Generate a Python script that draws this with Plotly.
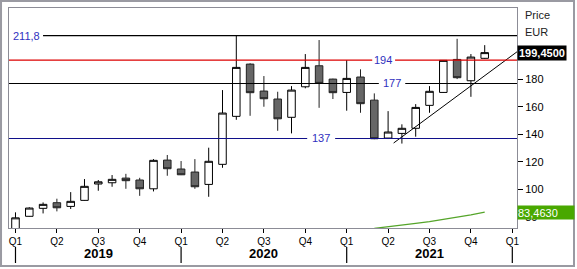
import plotly.graph_objects as go

# ---- data ----
months = list(range(35))  # Jan 2019 .. Nov 2021, monthly candles
opens  = [71.0, 80.4, 86.2, 90.3, 87.6, 92.0, 103.9, 104.8, 108.2, 106.8, 100.4, 121.3,
          114.8, 112.6, 103.6, 118.2, 153.1, 191.1, 171.5, 165.7, 152.4, 174.6, 189.9, 180.2,
          170.5, 181.7, 164.9, 137.3, 140.7, 144.4, 161.1, 170.5, 194.5, 179.0, 195.3]
highs  = [83.3, 87.0, 90.5, 93.2, 98.0, 107.5, 106.8, 110.4, 111.3, 108.4, 122.0, 125.0,
          120.6, 122.0, 130.3, 172.2, 211.8, 191.7, 182.4, 171.0, 175.1, 198.4, 208.6, 180.5,
          194.0, 187.3, 169.8, 156.9, 147.3, 162.0, 175.1, 194.0, 209.5, 198.4, 204.9]
lows   = [69.0, 80.2, 82.5, 84.0, 85.7, 91.8, 99.0, 101.9, 100.4, 95.3, 98.5, 109.9,
          110.4, 100.4, 94.6, 115.7, 150.6, 153.5, 160.1, 142.6, 140.7, 173.5, 159.3, 165.7,
          157.2, 155.7, 136.5, 136.6, 133.3, 138.3, 155.7, 170.3, 180.2, 167.3, 195.0]
closes = [79.3, 86.4, 89.1, 86.6, 91.3, 102.2, 105.5, 107.3, 106.3, 100.4, 121.1, 115.0,
          110.6, 101.9, 120.4, 155.5, 188.7, 170.3, 165.9, 151.3, 172.2, 188.7, 177.1, 170.3,
          180.7, 162.3, 136.8, 141.7, 144.4, 159.6, 171.3, 193.8, 181.2, 196.2, 199.45]

green_x = [26, 27, 28, 29, 30, 31, 32, 33, 34]
green_y = [71.6, 72.7, 73.9, 75.2, 76.6, 78.1, 79.7, 81.5, 83.463]

trend_x = [27.4, 36.4]
trend_y = [133.7, 200.5]

levels = {"211,8": 211.8, "194": 194, "177": 177, "137": 137}
last_price = 199.45
green_last = 83.463

quarter_ticks = list(range(0, 37, 3))
quarter_text = ["Q1", "Q2", "Q3", "Q4"] * 3 + ["Q1"]
year_pos = [6, 18, 30]
year_text = ["2019", "2020", "2021"]
year_sep = [0, 12, 24, 36]
y_ticks = [80, 100, 120, 140, 160, 180, 200]
y_tick_text = ["80", "100", "120", "140", "160", "180", ""]  # 200 hidden under price box

FONT = "Liberation Sans, Arial, sans-serif"
LBL = "#3030c0"

fig = go.Figure()
fig.add_trace(go.Candlestick(
    x=months, open=opens, high=highs, low=lows, close=closes,
    increasing=dict(line=dict(color="black", width=1), fillcolor="white"),
    decreasing=dict(line=dict(color="#222222", width=1), fillcolor="#666666"),
    whiskerwidth=0, showlegend=False, hoverinfo="skip"))
fig.add_trace(go.Scatter(x=green_x, y=green_y, mode="lines",
                         line=dict(color="#55a52a", width=1.2), showlegend=False, hoverinfo="skip"))
fig.add_trace(go.Scatter(x=trend_x, y=trend_y, mode="lines",
                         line=dict(color="black", width=1), showlegend=False, hoverinfo="skip"))

shapes = []
def hline(y, x0, x1, color):
    shapes.append(dict(type="line", xref="paper", yref="y", x0=x0, x1=x1, y0=y, y1=y,
                       line=dict(color=color, width=1.2), layer="above"))

hline(levels["211,8"], 0.067, 1, "black")
hline(levels["194"], 0, 0.715, "#dd0000"); hline(levels["194"], 0.760, 1, "#dd0000")
hline(levels["177"], 0, 0.728, "black"); hline(levels["177"], 0.780, 1, "black")
hline(levels["137"], 0, 0.587, "#10108a"); hline(levels["137"], 0.642, 1, "#10108a")

for xs in year_sep:
    shapes.append(dict(type="line", xref="x", yref="paper", x0=xs, x1=xs, y0=-0.086, y1=-0.159,
                       line=dict(color="black", width=1.2)))
# outer frame
shapes.append(dict(type="rect", xref="paper", yref="paper", x0=-0.0157, x1=1.1122, y0=-0.1727, y1=1.0318,
                   line=dict(color="#9a9aa2", width=2)))

ann = []
ann.append(dict(text="211,8", xref="paper", x=0.004, xanchor="left", y=levels["211,8"], yref="y",
                yanchor="middle", showarrow=False, font=dict(family=FONT, size=11, color=LBL)))
ann.append(dict(text="194", xref="paper", x=0.737, xanchor="center", y=levels["194"], yref="y",
                yanchor="middle", showarrow=False, font=dict(family=FONT, size=11, color=LBL)))
ann.append(dict(text="177", xref="paper", x=0.754, xanchor="center", y=levels["177"], yref="y",
                yanchor="middle", showarrow=False, font=dict(family=FONT, size=11, color=LBL)))
ann.append(dict(text="137", xref="paper", x=0.614, xanchor="center", y=levels["137"], yref="y",
                yanchor="middle", showarrow=False, font=dict(family=FONT, size=11, color=LBL)))
ann.append(dict(text="Price", xref="paper", x=1.012, xanchor="left", yref="paper", y=0.968,
                yanchor="middle", showarrow=False, font=dict(family=FONT, size=11, color="#222")))
ann.append(dict(text="EUR", xref="paper", x=1.012, xanchor="left", yref="paper", y=0.892,
                yanchor="middle", showarrow=False, font=dict(family=FONT, size=11, color="#222")))
ann.append(dict(text="<b>199,4500</b>", xref="paper", x=1.0, xanchor="left", yref="y", y=last_price,
                yanchor="middle", showarrow=False, bgcolor="black", borderpad=1,
                font=dict(family=FONT, size=11, color="white")))
ann.append(dict(text="83,4630", xref="paper", x=1.0, xanchor="left", yref="y", y=green_last,
                yanchor="middle", showarrow=False, bgcolor="#49a800", borderpad=0, width=56, height=13,
                align="left", font=dict(family=FONT, size=11, color="white")))
for xp, t in zip(year_pos, year_text):
    ann.append(dict(text="<b>" + t + "</b>", xref="x", x=xp, xanchor="center", yref="paper", y=-0.118,
                    yanchor="middle", showarrow=False, font=dict(family=FONT, size=13, color="black")))

fig.update_layout(
    width=577, height=269,
    margin=dict(l=9, r=60, t=8, b=41),
    paper_bgcolor="white", plot_bgcolor="white",
    boxgap=0.22,
    shapes=shapes, annotations=ann,
    xaxis=dict(range=[-0.47, 36.34], tickvals=quarter_ticks, ticktext=quarter_text,
               showgrid=False, zeroline=False, rangeslider=dict(visible=False),
               showline=True, linecolor="#8c8c96", linewidth=1, mirror=True,
               ticks="outside", ticklen=4, tickcolor="black",
               tickfont=dict(family=FONT, size=10, color="black")),
    yaxis=dict(range=[71.9, 231.9], side="right", tickvals=y_ticks, ticktext=y_tick_text,
               showgrid=False, zeroline=False,
               showline=True, linecolor="#8c8c96", linewidth=1, mirror=True,
               ticks="outside", ticklen=5, tickcolor="black",
               tickfont=dict(family=FONT, size=11, color="black")),
)

fig.write_html("out.html")
